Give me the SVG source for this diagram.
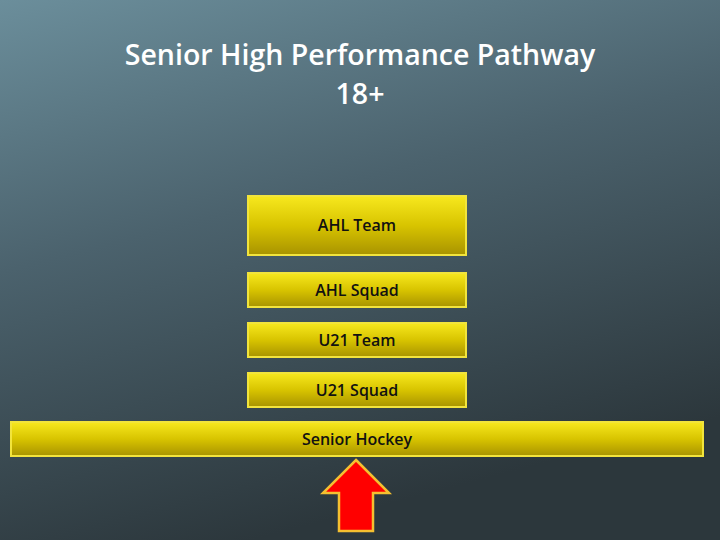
<svg xmlns="http://www.w3.org/2000/svg" width="720" height="540" viewBox="0 0 720 540">
<defs>
<linearGradient id="bg" x1="0" y1="0" x2="0.35" y2="1">
<stop offset="0" stop-color="#6b8e9b"/>
<stop offset="0.45" stop-color="#4b626d"/>
<stop offset="1" stop-color="#2c373c"/>
</linearGradient>
<linearGradient id="yel" x1="0" y1="0" x2="0" y2="1">
<stop offset="0" stop-color="#f7e81e"/>
<stop offset="0.5" stop-color="#d8c400"/>
<stop offset="1" stop-color="#a89300"/>
</linearGradient>
<style>
.box{fill:url(#yel);stroke:#f2e43c;stroke-width:2}
.lbl{font-family:"Open Sans","Liberation Sans",sans-serif;font-size:16px;font-weight:600;fill:#111;text-anchor:middle}
.title{font-family:"Open Sans","Liberation Sans",sans-serif;font-size:28.5px;font-weight:600;fill:#ffffff;text-anchor:middle}
</style>
</defs>
<rect width="720" height="540" fill="url(#bg)"/>
<text class="title" x="360" y="65">Senior High Performance Pathway</text>
<text class="title" x="360" y="104">18+</text>
<g id="ahl-team"><rect class="box" x="248" y="196" width="218" height="59"/><text class="lbl" x="357" y="231">AHL Team</text></g>
<g id="ahl-squad"><rect class="box" x="248" y="273" width="218" height="34"/><text class="lbl" x="357" y="296">AHL Squad</text></g>
<g id="u21-team"><rect class="box" x="248" y="323" width="218" height="34"/><text class="lbl" x="357" y="346">U21 Team</text></g>
<g id="u21-squad"><rect class="box" x="248" y="373" width="218" height="34"/><text class="lbl" x="357" y="396">U21 Squad</text></g>
<g id="senior-hockey"><rect class="box" x="11" y="422" width="692" height="34"/><text class="lbl" x="357" y="445">Senior Hockey</text></g>
<g id="connectors">
<polygon points="356,460 389,493 373,493 373,531 339,531 339,493 323,493" fill="#ff0000" stroke="#f5c030" stroke-width="2.5" stroke-linejoin="miter"/>
</g>
</svg>
